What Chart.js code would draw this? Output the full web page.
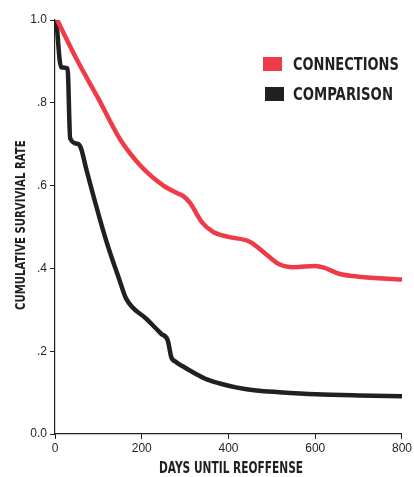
<!DOCTYPE html>
<html>
<head>
<meta charset="utf-8">
<script src="https://cdn.jsdelivr.net/npm/chart.js@4.4.1/dist/chart.umd.min.js"></script>
<style>
    html, body { margin: 0; padding: 0; background: #fff; }
    #wrap { position: relative; width: 414px; height: 477px; overflow: hidden; }
    .lbl { position: absolute; white-space: nowrap; line-height: 1;
        font-family: "Liberation Sans Narrow", "DejaVu Sans Condensed", sans-serif; font-weight: bold;
        color: #231f20; transform-origin: 0 0; }
    .box { position: absolute; width: 19px; height: 14px; }
</style>
</head>
<body>
<div id="wrap">
    <canvas id="survivalChart" width="414" height="477"></canvas>
    <div class="box" style="left:263px; top:57px; background:#ef3b47"></div>
    <div class="box" style="left:265px; top:87px; background:#231f20"></div>
    <div class="lbl" id="legConn" style="font-size:18px">CONNECTIONS</div>
    <div class="lbl" id="legComp" style="font-size:18px">COMPARISON</div>
    <div class="lbl" id="xTitle" style="font-size:15px">DAYS UNTIL REOFFENSE</div>
    <div class="lbl" id="yTitle" style="font-size:14px">CUMULATIVE SURVIVIAL RATE</div>
</div>
<script>
// Connections group
const connDays = [5, 50, 100, 150, 200, 250, 275, 295, 310, 340, 365, 400, 448, 480, 517, 550, 600, 620, 655, 700, 800];
const connRate = [1.0, 0.905, 0.81, 0.712, 0.645, 0.60, 0.585, 0.575, 0.56, 0.51, 0.488, 0.476, 0.465, 0.44, 0.41, 0.403, 0.406, 0.402, 0.387, 0.38, 0.373];

// Comparison group
const compDays = [3, 14, 29, 35, 52, 60, 72, 118, 149, 164, 212, 245, 260, 268, 279, 300, 320, 350, 380, 420, 464, 517, 602, 700, 800];
const compRate = [1.0, 0.886, 0.883, 0.714, 0.701, 0.69, 0.64, 0.467, 0.371, 0.327, 0.277, 0.242, 0.226, 0.186, 0.174, 0.16, 0.148, 0.132, 0.122, 0.112, 0.105, 0.101, 0.096, 0.093, 0.091];

const xTicks = [0, 200, 400, 600, 800];
const yTicks = [0, 0.2, 0.4, 0.6, 0.8, 1.0];

function toPoints(days, rates) {
    return days.map((d, i) => ({ x: d, y: rates[i] }));
}

function yLabel(v) {
    if (v === 0) return '0.0';
    if (v === 1) return '1.0';
    return '.' + Math.round(v * 10);
}

// squeeze a label to a target width and place it
function place(id, left, top, width, rotate) {
    const el = document.getElementById(id);
    const s = width / el.offsetWidth;
    el.style.left = left + 'px';
    el.style.top = top + 'px';
    el.style.transform = rotate ? `rotate(-90deg) scaleX(${s})` : `scaleX(${s})`;
}

place('legConn', 293, 55, 106);
place('legComp', 293, 85, 100);
place('xTitle', 159, 461, 144);
place('yTitle', 13, 310, 170, true);

const tickFont = { family: '"Liberation Sans", Arial, sans-serif', size: 12 };

new Chart(document.getElementById('survivalChart').getContext('2d'), {
    type: 'line',
    data: {
        datasets: [{
            label: 'CONNECTIONS',
            data: toPoints(connDays, connRate),
            borderColor: '#ef3b47',
            borderWidth: 4.5,
            pointRadius: 0,
            cubicInterpolationMode: 'monotone',
            fill: false
        }, {
            label: 'COMPARISON',
            data: toPoints(compDays, compRate),
            borderColor: '#231f20',
            borderWidth: 4.5,
            pointRadius: 0,
            cubicInterpolationMode: 'monotone',
            fill: false
        }]
    },
    options: {
        responsive: false,
        animation: false,
        layout: { padding: { top: 20, right: 9, left: 0, bottom: 0 } },
        plugins: { legend: { display: false }, tooltip: { enabled: false } },
        scales: {
            x: {
                type: 'linear',
                min: 0, max: 800,
                afterBuildTicks: s => { s.ticks = xTicks.map(v => ({ value: v })); },
                afterFit: s => { s.height = 43; },
                grid: { drawOnChartArea: false, drawTicks: true, tickLength: 5, color: '#231f20' },
                border: { display: true, color: '#231f20', width: 1.2 },
                ticks: { color: '#231f20', font: tickFont, padding: 2, maxRotation: 0 }
            },
            y: {
                min: 0, max: 1,
                afterBuildTicks: s => { s.ticks = yTicks.map(v => ({ value: v })); },
                afterFit: s => { s.width = 55; },
                grid: { drawOnChartArea: false, drawTicks: true, tickLength: 5, color: '#231f20' },
                border: { display: true, color: '#231f20', width: 1.2 },
                ticks: { color: '#231f20', font: tickFont, padding: 3, callback: v => yLabel(v) }
            }
        }
    }
});
</script>
</body>
</html>
